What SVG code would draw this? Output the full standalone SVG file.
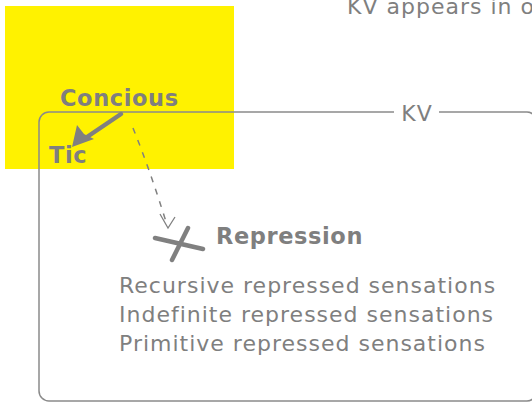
<svg xmlns="http://www.w3.org/2000/svg" width="532" height="403" viewBox="0 0 532 403">
<style>
.t{font-family:"DejaVu Sans",Verdana,sans-serif;fill:#7f7f7f;font-size:22px;letter-spacing:1px}
.b{font-weight:bold;font-size:22.5px;letter-spacing:0.6px}
.frame{fill:none;stroke:#8a8a8a;stroke-width:1.5}
.thick{stroke:#808080;stroke-width:4.5;stroke-linecap:round;fill:none}
.dash{stroke:#808080;stroke-width:1.5;stroke-dasharray:6 7;fill:none}
</style>
<rect x="5" y="6" width="229" height="163" fill="#fff200"/>
<g id="kv-frame">
<path class="frame" d="M394,112 H49 A10,10 0 0 0 39,122 V391 A10,10 0 0 0 49,401 H527 A9,9 0 0 0 536,392 V121 A9,9 0 0 0 527,112 H439"/>
<text class="t" x="417" y="121" text-anchor="middle">KV</text>
</g>
<g id="note"><text class="t" x="347" y="14">KV appears in o</text></g>
<g id="concious"><text class="t b" x="60" y="106">Concious</text></g>
<g id="tic"><text class="t b" x="49" y="163">Tic</text></g>
<g id="repression">
<path class="thick" d="M155,238 L203,249 M188,228 L172,260"/>
<text class="t b" x="216" y="244">Repression</text>
<text class="t" x="119" y="293">Recursive repressed sensations</text>
<text class="t" x="119" y="322">Indefinite repressed sensations</text>
<text class="t" x="119" y="351">Primitive repressed sensations</text>
</g>
<g id="connectors">
<path class="thick" d="M121,114 L84,139" stroke-width="5"/>
<polygon points="72,147 77,125 84,134 94,139" fill="#808080"/>
<path class="dash" d="M133,128 Q150,170 167,225"/>
<path d="M160,214 L168,228 L175,217" fill="none" stroke="#808080" stroke-width="1.3"/>
</g>
</svg>
